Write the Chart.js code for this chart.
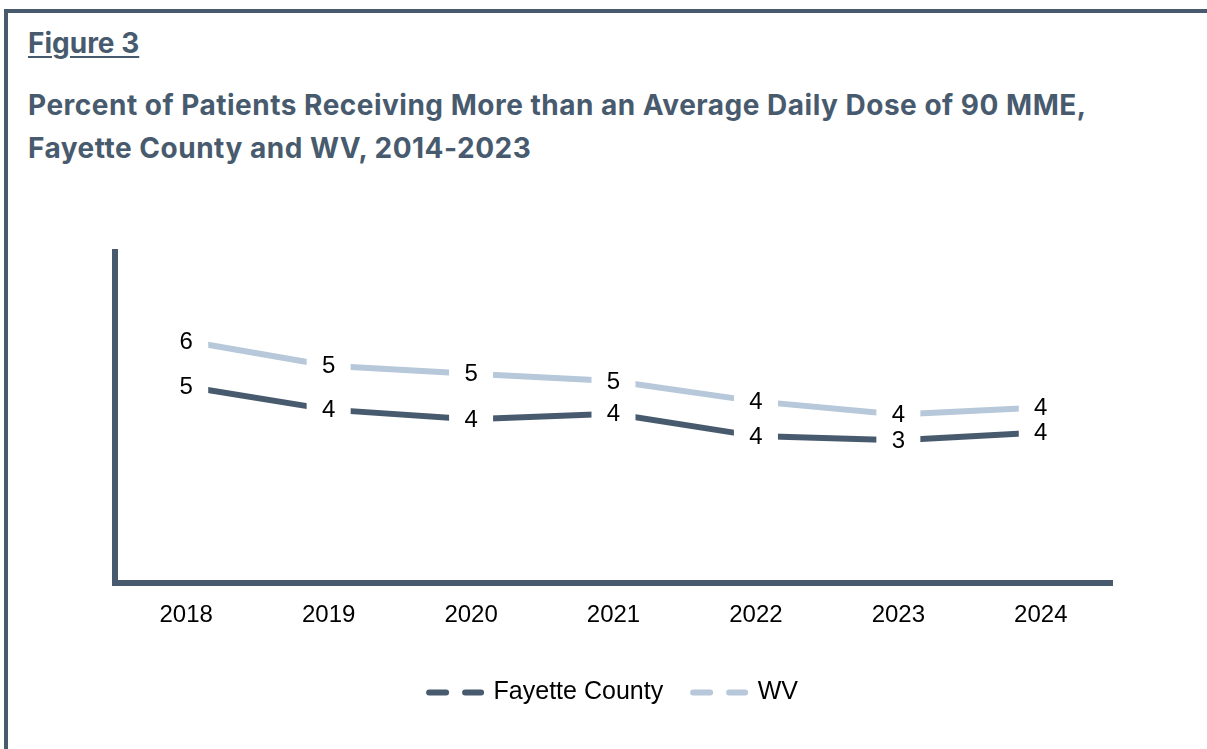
<!DOCTYPE html>
<html>
<head>
<meta charset="utf-8">
<script src="https://cdn.jsdelivr.net/npm/chart.js@4.4.1/dist/chart.umd.min.js"></script>
<style>
  html, body { margin: 0; padding: 0; background: #ffffff; }
  body { width: 1207px; height: 749px; position: relative; overflow: hidden; }
  #frame { position: absolute; left: 4px; top: 9px; width: 1300px; height: 800px;
           border-top: 4px solid #485b6e; border-left: 4px solid #485b6e; }
  #fig { position: absolute; left: 28px; top: 28px; font-family: Inter, "Open Sans", sans-serif;
         font-weight: 700; font-size: 28px; line-height: 30px; color: #485b6e;
         text-decoration: underline; text-decoration-thickness: 1.5px; text-underline-offset: 3px; white-space: nowrap; }
  #sub { position: absolute; left: 28px; top: 84px; font-family: Inter, "Open Sans", sans-serif;
         font-weight: 700; font-size: 28px; letter-spacing: 0.5px; line-height: 43px; color: #485b6e; white-space: nowrap; }
  #wrap { position: absolute; left: 0; top: 0; width: 1207px; height: 749px; }
</style>
</head>
<body>
<div id="frame"></div>
<div id="fig">Figure 3</div>
<div id="sub">Percent of Patients Receiving More than an Average Daily Dose of 90 MME,<br>Fayette County and WV, 2014-2023</div>
<div id="wrap"><canvas id="c" width="1207" height="749"></canvas></div>
<script>
const years = ["2018", "2019", "2020", "2021", "2022", "2023", "2024"];
const fayette = [4.75, 4.19, 3.96, 4.09, 3.55, 3.45, 3.64];
const wv = [5.85, 5.25, 5.06, 4.88, 4.39, 4.07, 4.24];
const seriesNames = ["Fayette County", "WV"];

const DARK = "#485b6e";
const LIGHT = "#b6c8d9";

const labelPlugin = {
  id: "pointLabels",
  afterDatasetsDraw(chart) {
    const ctx = chart.ctx;
    ctx.save();
    chart.data.datasets.forEach((ds, i) => {
      const meta = chart.getDatasetMeta(i);
      meta.data.forEach(pt => {
        ctx.fillStyle = "#ffffff";
        ctx.fillRect(pt.x - 22, pt.y - 12, 44, 24);
      });
    });
    ctx.fillStyle = "#000000";
    ctx.font = "24px 'Liberation Sans', Arial, sans-serif";
    ctx.textAlign = "center";
    ctx.textBaseline = "middle";
    chart.data.datasets.forEach((ds, i) => {
      const meta = chart.getDatasetMeta(i);
      meta.data.forEach((pt, j) => {
        ctx.fillText(String(Math.round(ds.data[j])), pt.x, pt.y + 1);
      });
    });
    ctx.restore();
  }
};

new Chart(document.getElementById("c"), {
  type: "line",
  data: {
    labels: years,
    datasets: [
      { label: seriesNames[0], data: fayette, borderColor: DARK, backgroundColor: DARK,
        borderWidth: 6, pointRadius: 0, tension: 0, borderCapStyle: "butt" },
      { label: seriesNames[1], data: wv, borderColor: LIGHT, backgroundColor: LIGHT,
        borderWidth: 6, pointRadius: 0, tension: 0, borderCapStyle: "butt" }
    ]
  },
  options: {
    responsive: false,
    animation: false,
    layout: { padding: { top: 252, left: 115, right: 95, bottom: 34 } },
    scales: {
      x: {
        offset: true,
        grid: { display: false, drawTicks: false },
        border: { display: true, color: DARK, width: 6 },
        ticks: { color: "#000000", padding: 18, font: { family: "'Liberation Sans', Arial, sans-serif", size: 24 } },
        afterFit(s) { s.height = 67; }
      },
      y: {
        min: 0, max: 8,
        grid: { display: false, drawTicks: false },
        border: { display: true, color: DARK, width: 6 },
        ticks: { display: false },
        afterFit(s) { s.width = 0; }
      }
    },
    plugins: {
      tooltip: { enabled: false },
      legend: {
        position: "bottom",
        labels: {
          usePointStyle: true,
          pointStyleWidth: 52,
          padding: 30,
          color: "#000000",
          font: { family: "'Liberation Sans', Arial, sans-serif", size: 25 },
          generateLabels(chart) {
            return chart.data.datasets.map((ds, i) => ({
              text: ds.label,
              fillStyle: ds.borderColor,
              strokeStyle: ds.borderColor,
              lineWidth: 6,
              lineDash: [17, 19],
              lineCap: "round",
              pointStyle: "line",
              hidden: false,
              datasetIndex: i,
              fontColor: "#000000"
            }));
          }
        }
      }
    }
  },
  plugins: [labelPlugin]
});
</script>
</body>
</html>
